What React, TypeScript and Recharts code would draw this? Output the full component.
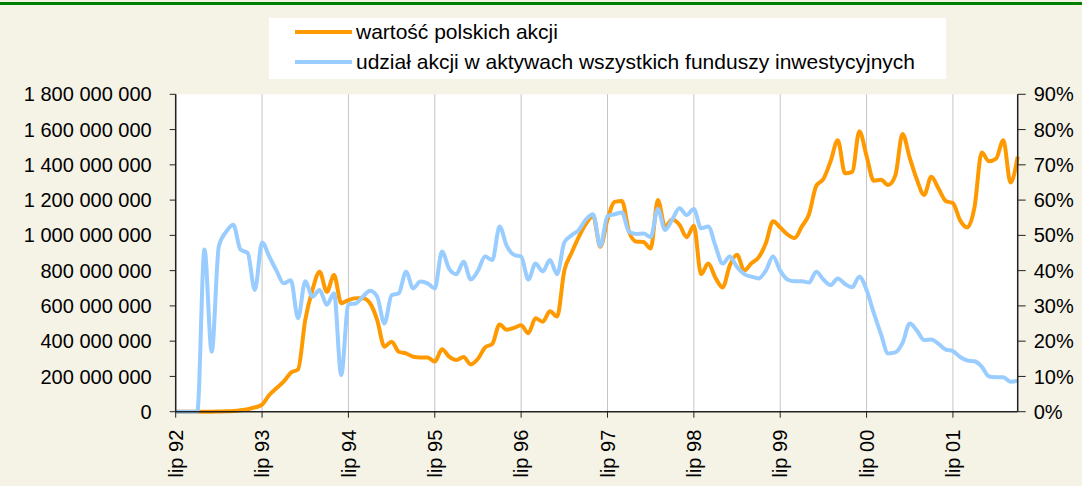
import { LineChart, Line, XAxis, YAxis, CartesianGrid } from 'recharts'

// monthly, lip 92 .. kwi 02
const YEAR_LABELS = ['lip 92', 'lip 93', 'lip 94', 'lip 95', 'lip 96', 'lip 97', 'lip 98', 'lip 99', 'lip 00', 'lip 01']

// wartość polskich akcji, mln zł
const WARTOSC = [
  0, 0, 0, 0, 0, 0, 1, 2, 4, 8, 14, 24,
  40, 95, 133, 170, 221, 240, 520, 690, 794, 680, 775, 615,
  633, 643, 643, 615, 520, 369, 397, 340, 331, 312, 308, 308,
  284, 354, 312, 293, 310, 268, 300, 365, 385, 495, 465, 475,
  490, 445, 530, 510, 570, 540, 800, 900, 990, 1065, 1110, 935,
  1090, 1190, 1195, 1020, 965, 962, 925, 1200, 1050, 1090, 1060, 990,
  1055, 780, 840, 760, 705, 830, 890, 800, 842, 875, 955, 1080,
  1045, 1005, 985, 1050, 1120, 1280, 1320, 1420, 1540, 1352, 1360, 1590,
  1450, 1310, 1315, 1285, 1340, 1575, 1440, 1315, 1230, 1333, 1265, 1195,
  1182, 1085, 1045, 1160, 1470, 1420, 1435, 1540, 1300, 1446,
]

// udział akcji w aktywach funduszy, %
const UDZIAL = [
  0, 0, 0, 0, 46, 17, 47, 51, 53, 46, 45, 34.5,
  48, 44, 40, 36.4, 37.3, 26.5, 37, 32.6, 34.5, 30.3, 33.6, 10.4,
  30.5, 30.7, 32.6, 34.3, 32.6, 25, 33, 33.6, 39.7, 35, 36.9, 36.4,
  35, 45.4, 40.5, 39, 42.5, 37.5, 40, 44, 43, 52.5, 47, 44.5,
  44, 37.5, 42, 39.8, 43, 39, 48, 50, 51.5, 54.5, 56, 47,
  55.5, 56, 56.5, 51, 50.4, 50.5, 49.5, 57.5, 51.5, 54.5, 57.7, 55.8,
  57.5, 52, 52.5, 47, 42, 44, 41, 39, 38.3, 37.8, 40, 44,
  40, 37.5, 37, 37, 36.6, 39.7, 37.5, 35.9, 37.8, 36.2, 35.3, 38.3,
  34.5, 28, 22, 16.5, 16.8, 19.5, 25, 23, 20.3, 20.5, 19.2, 17.6,
  17.2, 15.5, 14.5, 14.3, 12.8, 10, 9.8, 9.8, 8.5, 8.8,
]

const LEFT_TICKS = [0, 200, 400, 600, 800, 1000, 1200, 1400, 1600, 1800]
const RIGHT_TICKS = [0, 10, 20, 30, 40, 50, 60, 70, 80, 90]

const ORANGE = '#FF9900'
const BLUE = '#99CCFF'
const FONT = '"Liberation Sans", Arial, sans-serif'

const data = WARTOSC.map((v, i) => ({ m: i, wartosc: v, udzial: UDZIAL[i] }))
const xTicks = YEAR_LABELS.map((_, i) => i * 12)

const fmtMln = (v: number) =>
  String(v * 1000000).replace(/\B(?=(\d{3})+(?!\d))/g, ' ')

function XTick({ x, y, payload }: any) {
  const label = YEAR_LABELS[Math.round(payload.value / 12)]
  return (
    <text
      transform={`translate(${x},${y + 10}) rotate(-90)`}
      textAnchor="end"
      dy="0.36em"
      fontSize={20}
      fontFamily={FONT}
      fill="#000"
    >
      {label}
    </text>
  )
}

export default function App() {
  return (
    <div style={{ position: 'absolute', left: 0, top: 0, width: 1082, height: 486, background: '#F5F2E6', fontFamily: FONT }}>
      <div style={{ position: 'absolute', left: 0, top: 2, width: 1082, height: 3, background: '#008000' }} />

      <LineChart
        width={1082}
        height={486}
        data={data}
        margin={{ top: 94.3, right: 4.3, bottom: 4.3, left: 15.7 }}
      >
        <CartesianGrid stroke="#C4C4C4" fill="#fff" horizontalValues={LEFT_TICKS} />
        <XAxis
          dataKey="m"
          type="number"
          domain={[0, 117]}
          ticks={xTicks}
          interval={0}
          height={70}
          tick={<XTick />}
          tickSize={6}
          stroke="#222"
          tickLine={{ stroke: '#222' }}
          axisLine={{ stroke: '#222', strokeWidth: 1.5 }}
        />
        <YAxis
          yAxisId="left"
          domain={[0, 1800]}
          ticks={LEFT_TICKS}
          interval={0}
          width={160}
          tickFormatter={fmtMln}
          tickSize={6}
          tickMargin={18}
          tick={{ fontSize: 20, fill: '#000', fontFamily: FONT }}
          stroke="#222"
          axisLine={{ stroke: '#222', strokeWidth: 1.5 }}
        />
        <YAxis
          yAxisId="right"
          orientation="right"
          domain={[0, 90]}
          ticks={RIGHT_TICKS}
          interval={0}
          width={60}
          tickFormatter={(v: number) => `${v}%`}
          tickSize={8}
          tickMargin={8}
          tick={{ fontSize: 20, fill: '#000', fontFamily: FONT }}
          stroke="#222"
          axisLine={{ stroke: '#222', strokeWidth: 1.5 }}
        />
        <Line
          yAxisId="left"
          type="monotone"
          dataKey="wartosc"
          stroke={ORANGE}
          strokeWidth={4}
          dot={false}
          isAnimationActive={false}
        />
        <Line
          yAxisId="right"
          type="monotone"
          dataKey="udzial"
          stroke={BLUE}
          strokeWidth={4}
          dot={false}
          isAnimationActive={false}
        />
      </LineChart>

      <div style={{ position: 'absolute', left: 269, top: 18, width: 677, height: 61, background: '#fff' }}>
        {[
          { label: 'wartość polskich akcji', color: ORANGE, top: 14 },
          { label: 'udział akcji w aktywach wszystkich funduszy inwestycyjnych', color: BLUE, top: 44 },
        ].map(it => (
          <div key={it.label} style={{ position: 'absolute', left: 26, top: it.top - 13, height: 26, display: 'flex', alignItems: 'center' }}>
            <div style={{ width: 57, height: 4, background: it.color, marginRight: 4 }} />
            <span style={{ fontSize: 21, color: '#000', whiteSpace: 'nowrap' }}>{it.label}</span>
          </div>
        ))}
      </div>
    </div>
  )
}
